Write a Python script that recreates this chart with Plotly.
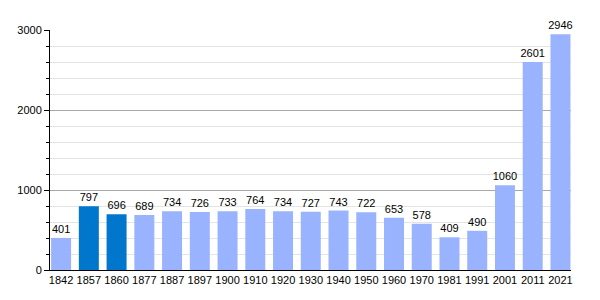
import plotly.graph_objects as go

years = ["1842", "1857", "1860", "1877", "1887", "1897", "1900", "1910", "1920", "1930",
         "1940", "1950", "1960", "1970", "1981", "1991", "2001", "2011", "2021"]
population = [401, 797, 696, 689, 734, 726, 733, 764, 734, 727,
              743, 722, 653, 578, 409, 490, 1060, 2601, 2946]
highlight = ["1857", "1860"]

LIGHT = "#99b3ff"
DARK = "#0077cc"
colors = [DARK if y in highlight else LIGHT for y in years]

fig = go.Figure(go.Bar(
    x=list(range(len(years))),
    y=population,
    marker=dict(color=colors, line=dict(width=0)),
    width=0.72,
    text=[str(v) for v in population],
    textposition="outside",
    textfont=dict(family="Liberation Sans, Arial, sans-serif", size=11, color="black"),
    cliponaxis=False,
))

fig.update_layout(
    width=600, height=300,
    margin=dict(l=50, r=29, t=30, b=30),
    paper_bgcolor="white", plot_bgcolor="white",
    showlegend=False,
    font=dict(family="Liberation Sans, Arial, sans-serif", size=11, color="black"),
    uniformtext=dict(mode="show", minsize=11),
)
fig.update_xaxes(
    range=[-0.4, 18.38],
    tickmode="array", tickvals=list(range(len(years))), ticktext=years,
    showgrid=False, showline=True, linecolor="black", linewidth=1,
    ticks="", ticklen=0,
    tickfont=dict(size=11, color="black"),
    fixedrange=True,
)
fig.update_yaxes(
    range=[0, 3000],
    tickvals=[0, 1000, 2000, 3000],
    showgrid=True, gridcolor="#a8a8a8", gridwidth=1,
    showline=True, linecolor="black", linewidth=1,
    ticks="outside", ticklen=5, tickcolor="black",
    tickfont=dict(size=11, color="black"),
    zeroline=False,
    minor=dict(dtick=200, showgrid=True, gridcolor="#e4e4e4", ticks="outside", ticklen=3, tickcolor="black"),
)

fig.write_html("out.html")
